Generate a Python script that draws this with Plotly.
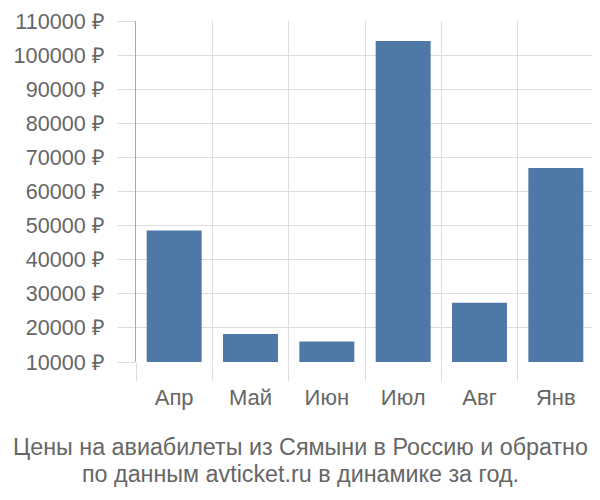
import plotly.graph_objects as go

# months and average ticket prices (rub)
months = ["Апр", "Май", "Июн", "Июл", "Авг", "Янв"]
prices = [48600, 18200, 16000, 104200, 27400, 66900]
base_price = 10000

y_ticks = list(range(10000, 110001, 10000))
y_labels = [f"{v} ₽" for v in y_ticks]

title_lines = ["Цены на авиабилеты из Сямыни в Россию и обратно",
               "по данным avticket.ru в динамике за год."]

fig = go.Figure(go.Bar(
    x=months,
    y=[p - base_price for p in prices],
    base=base_price,
    marker=dict(color="#4e79a7", line=dict(width=0)),
    width=0.72,
))

# page body has an 8px margin, so shift everything up/left by 8
fig.update_layout(
    width=592, height=492,
    margin=dict(l=128, r=6, t=13, b=138, autoexpand=False),
    paper_bgcolor="white", plot_bgcolor="white",
    font=dict(family="Liberation Sans, Arial, sans-serif", size=21, color="#666"),
    showlegend=False,
)

fig.update_xaxes(
    type="category",
    tickson="boundaries",
    ticks="outside", ticklen=18, tickcolor="#ddd", tickwidth=1,
    showgrid=True, gridcolor="#ddd", gridwidth=1,
    showline=False, zeroline=False,
    tickfont=dict(size=22, color="#666"),
    ticklabelstandoff=20,
    automargin=False,
)

fig.update_yaxes(
    range=[10000, 110040],
    tickvals=y_ticks, ticktext=y_labels,
    ticks="outside", ticklen=18, tickcolor="#ddd", tickwidth=1,
    showgrid=True, gridcolor="#ddd", gridwidth=1,
    showline=True, linecolor="#aaa", linewidth=1,
    zeroline=False,
    tickfont=dict(size=21.6, color="#666"),
    ticklabelstandoff=8,
    ticklabeloverflow="allow",
    automargin=False,
)

title_x = (300 - 136) / 458
for i, line in enumerate(title_lines):
    fig.add_annotation(
        text=line, xref="paper", yref="paper",
        x=title_x, xanchor="center", y=0, yanchor="middle",
        yshift=-85 - 27 * i,
        showarrow=False,
        font=dict(size=23.3, color="#666"),
    )

fig.write_html("out.html")
